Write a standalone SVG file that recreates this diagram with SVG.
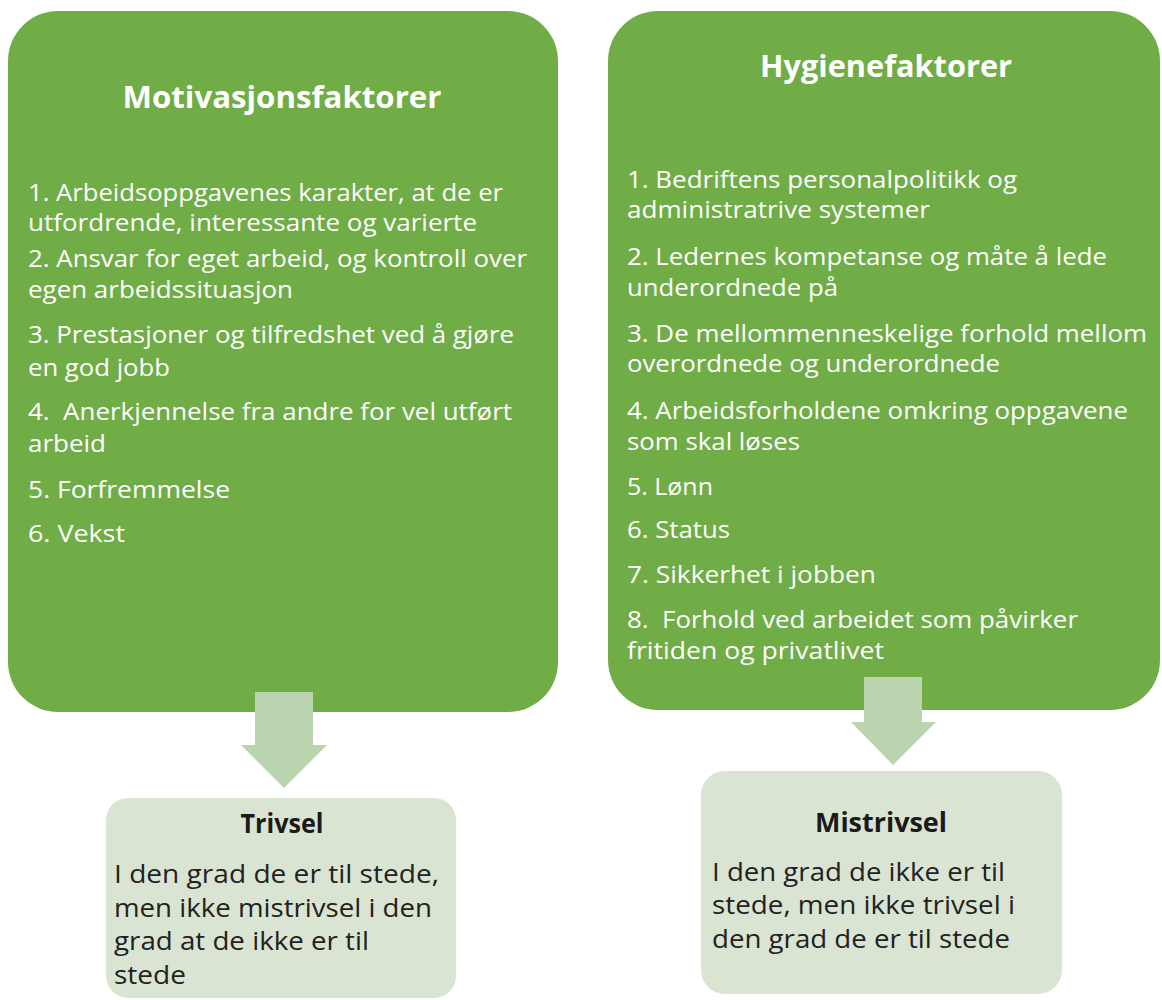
<svg xmlns="http://www.w3.org/2000/svg" width="1162" height="1000" viewBox="0 0 1162 1000">
<defs>
<style>
.big{fill:#70AD47}
.small{fill:#DAE4D3}
.arrow{fill:#B9D4AE}
.t{font-family:"Open Sans","Noto Sans","Liberation Sans",sans-serif;fill:#ffffff;font-size:23px;white-space:pre}
.h{font-family:"Open Sans","Noto Sans","Liberation Sans",sans-serif;fill:#ffffff;font-size:30px;font-weight:bold;text-anchor:middle}
.bt{font-family:"Open Sans","Noto Sans","Liberation Sans",sans-serif;fill:#222222;font-size:26px;white-space:pre}
.bh{font-family:"Open Sans","Noto Sans","Liberation Sans",sans-serif;fill:#1a1a1a;font-size:26px;font-weight:bold;text-anchor:middle}
</style>
</defs>
<rect width="1162" height="1000" fill="#ffffff"/>

<g id="motivasjon">
<rect class="big" x="8" y="11" width="550" height="701" rx="50" ry="50"/>
<text class="h" x="282" y="108" textLength="319" lengthAdjust="spacingAndGlyphs">Motivasjonsfaktorer</text>
<text class="t" x="28" y="201" textLength="475" lengthAdjust="spacingAndGlyphs">1. Arbeidsoppgavenes karakter, at de er</text>
<text class="t" x="28" y="231" textLength="449" lengthAdjust="spacingAndGlyphs">utfordrende, interessante og varierte</text>
<text class="t" x="28" y="267" textLength="499" lengthAdjust="spacingAndGlyphs">2. Ansvar for eget arbeid, og kontroll over</text>
<text class="t" x="28" y="298" textLength="265" lengthAdjust="spacingAndGlyphs">egen arbeidssituasjon</text>
<text class="t" x="28" y="343" textLength="486" lengthAdjust="spacingAndGlyphs">3. Prestasjoner og tilfredshet ved å gjøre</text>
<text class="t" x="28" y="376" textLength="142" lengthAdjust="spacingAndGlyphs">en god jobb</text>
<text class="t" x="28" y="420" textLength="484" lengthAdjust="spacingAndGlyphs">4.  Anerkjennelse fra andre for vel utført</text>
<text class="t" x="28" y="452" textLength="78" lengthAdjust="spacingAndGlyphs">arbeid</text>
<text class="t" x="28" y="498" textLength="202" lengthAdjust="spacingAndGlyphs">5. Forfremmelse</text>
<text class="t" x="28" y="542" textLength="97" lengthAdjust="spacingAndGlyphs">6. Vekst</text>
</g>

<g id="hygiene">
<rect class="big" x="608" y="11" width="552" height="699" rx="50" ry="50"/>
<text class="h" x="886" y="77" textLength="252" lengthAdjust="spacingAndGlyphs">Hygienefaktorer</text>
<text class="t" x="627" y="188" textLength="390" lengthAdjust="spacingAndGlyphs">1. Bedriftens personalpolitikk og</text>
<text class="t" x="627" y="218" textLength="303" lengthAdjust="spacingAndGlyphs">administratrive systemer</text>
<text class="t" x="627" y="265" textLength="480" lengthAdjust="spacingAndGlyphs">2. Ledernes kompetanse og måte å lede</text>
<text class="t" x="627" y="296" textLength="211" lengthAdjust="spacingAndGlyphs">underordnede på</text>
<text class="t" x="627" y="342" textLength="520" lengthAdjust="spacingAndGlyphs">3. De mellommenneskelige forhold mellom</text>
<text class="t" x="627" y="372" textLength="373" lengthAdjust="spacingAndGlyphs">overordnede og underordnede</text>
<text class="t" x="627" y="419" textLength="501" lengthAdjust="spacingAndGlyphs">4. Arbeidsforholdene omkring oppgavene</text>
<text class="t" x="627" y="450" textLength="173" lengthAdjust="spacingAndGlyphs">som skal løses</text>
<text class="t" x="627" y="495" textLength="86" lengthAdjust="spacingAndGlyphs">5. Lønn</text>
<text class="t" x="627" y="538" textLength="103" lengthAdjust="spacingAndGlyphs">6. Status</text>
<text class="t" x="627" y="583" textLength="249" lengthAdjust="spacingAndGlyphs">7. Sikkerhet i jobben</text>
<text class="t" x="627" y="628" textLength="451" lengthAdjust="spacingAndGlyphs">8.  Forhold ved arbeidet som påvirker</text>
<text class="t" x="627" y="659" textLength="257" lengthAdjust="spacingAndGlyphs">fritiden og privatlivet</text>
</g>

<g id="connectors">
<polygon class="arrow" points="255,692 313,692 313,745 327,745 284,788 241,745 255,745"/>
<polygon class="arrow" points="864,677 922,677 922,722 936,722 893,765 851,722 864,722"/>
</g>

<g id="trivsel">
<rect class="small" x="106" y="798" width="350" height="200" rx="22" ry="22"/>
<text class="bh" x="282" y="833" textLength="83" lengthAdjust="spacingAndGlyphs">Trivsel</text>
<text class="bt" x="114" y="883" textLength="325" lengthAdjust="spacingAndGlyphs">I den grad de er til stede,</text>
<text class="bt" x="114" y="917" textLength="318" lengthAdjust="spacingAndGlyphs">men ikke mistrivsel i den</text>
<text class="bt" x="114" y="950" textLength="255" lengthAdjust="spacingAndGlyphs">grad at de ikke er til</text>
<text class="bt" x="114" y="984" textLength="72" lengthAdjust="spacingAndGlyphs">stede</text>
</g>

<g id="mistrivsel">
<rect class="small" x="701" y="771" width="361" height="223" rx="24" ry="24"/>
<text class="bh" x="881" y="832" textLength="132" lengthAdjust="spacingAndGlyphs">Mistrivsel</text>
<text class="bt" x="712" y="881" textLength="293" lengthAdjust="spacingAndGlyphs">I den grad de ikke er til</text>
<text class="bt" x="712" y="914" textLength="303" lengthAdjust="spacingAndGlyphs">stede, men ikke trivsel i</text>
<text class="bt" x="712" y="948" textLength="298" lengthAdjust="spacingAndGlyphs">den grad de er til stede</text>
</g>
</svg>
